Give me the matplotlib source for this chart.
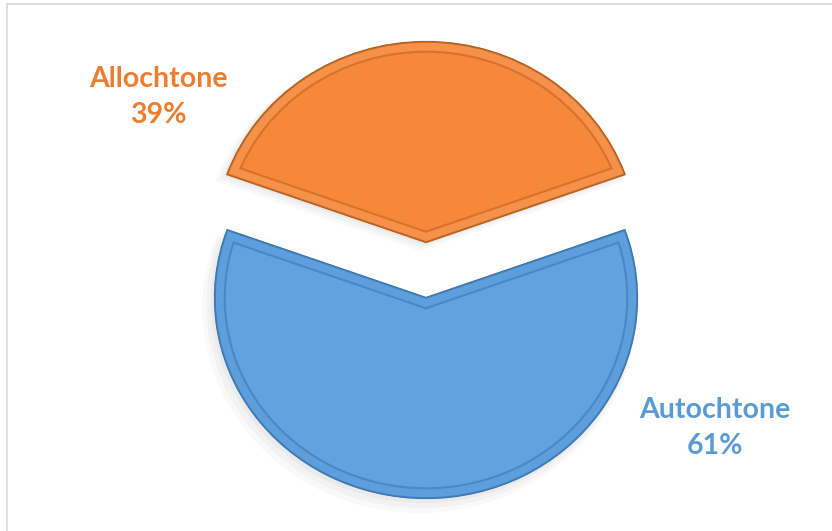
import matplotlib.pyplot as plt
from matplotlib.patches import Rectangle, Wedge
import numpy as np

labels = ['Allochtone', 'Autochtone']
shares = [39, 61]
fills = ['#F5883A', '#60A3DF']
rims = ['#F5914A', '#5D9FDD']
edges = ['#B5601E', '#3C77B0']
lines = ['#D8722A', '#4A88C4']
text_cols = ['#ED7D31', '#5B9BD5']

W, H = 832, 531
fig = plt.figure(figsize=(W / 100, H / 100), dpi=100)
ax = fig.add_axes([0, 0, 1, 1])

# pixel scale of the pie (slightly wider than tall in the reference)
cx, cy, sx, sy = 426, 270, 211, 200

wedges, _ = ax.pie(shares, startangle=19.8, counterclock=True,
                   explode=[0.14, 0.14], colors=fills,
                   wedgeprops=dict(linewidth=1.6, joinstyle='miter'))

for i, w in enumerate(wedges):
    w.set_edgecolor(edges[i])
    # soft shadow below
    for k, a in enumerate([0.05, 0.04, 0.03]):
        sh = Wedge((w.center[0] - 0.01 * (k + 1), w.center[1] - 0.015 * (k + 1)),
                   w.r + 0.01 * (k + 1), w.theta1, w.theta2,
                   facecolor='#555555', edgecolor='none', alpha=a, zorder=0)
        ax.add_patch(sh)
    # bevel rim: thin line then rim band, both clipped to the wedge
    for lw, col in [(15.5, lines[i]), (12.5, rims[i])]:
        p = Wedge(w.center, w.r, w.theta1, w.theta2, facecolor='none',
                  edgecolor=col, linewidth=lw, joinstyle='miter', zorder=2)
        ax.add_patch(p)
        p.set_clip_path(w)
    # outer edge drawn again on top
    e = Wedge(w.center, w.r, w.theta1, w.theta2, facecolor='none',
              edgecolor=edges[i], linewidth=1.2, joinstyle='miter', zorder=3,
              alpha=0.8)
    ax.add_patch(e)

ax.set_aspect('auto')
ax.set_xlim(-cx / sx, (W - cx) / sx)
ax.set_ylim(-(H - cy) / sy, cy / sy)
ax.axis('off')

# data labels
pos = [(158, 97), (715, 428)]
for i in range(2):
    px, py = pos[i]
    ax.text((px - cx) / sx, (cy - py) / sy, f'{labels[i]}\n{shares[i]}%',
            ha='center', va='center', color=text_cols[i], fontsize=20.5,
            fontweight='bold', family=['Lato', 'DejaVu Sans'], linespacing=1.5)

# chart area border
fig.patches.append(Rectangle((7 / W, -0.1), 2, 1.1 - 4 / H, transform=fig.transFigure,
                             facecolor='none', edgecolor='#D9D9D9', linewidth=1.2))

fig.savefig('out.png', dpi=100)
